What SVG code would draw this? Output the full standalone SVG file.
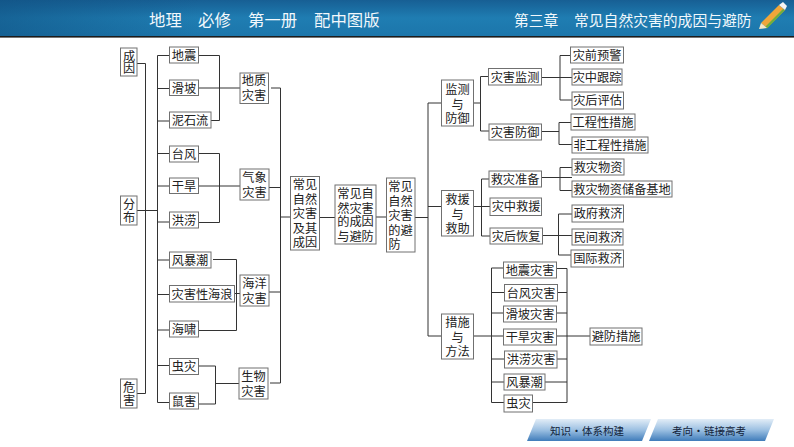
<svg xmlns="http://www.w3.org/2000/svg" width="794" height="447" viewBox="0 0 794 447">
<style>
text{font-family:"Noto Sans CJK SC","Liberation Sans",sans-serif}
.n rect{fill:#fff;stroke:#707070;stroke-width:1}
.n text{font-size:12.2px;fill:#222;text-anchor:middle}
.c path{fill:none;stroke:#333;stroke-width:1}
.h{font-size:16.4px;fill:#f2f8fc}
.r{font-size:14.8px;fill:#f2f8fc}
.b{font-size:10.5px;fill:#12233a;text-anchor:middle;word-spacing:-2px}
</style>
<defs>
<linearGradient id="hd" x1="0" y1="0" x2="0" y2="1"><stop offset="0" stop-color="#175f94"/><stop offset=".5" stop-color="#1f7db2"/><stop offset="1" stop-color="#1c76ab"/></linearGradient>
<linearGradient id="hl" x1="0" y1="0" x2="1" y2="0"><stop offset="0" stop-color="#0f4f80" stop-opacity=".55"/><stop offset=".25" stop-color="#0f4f80" stop-opacity="0"/></linearGradient>
<linearGradient id="bt" x1="0" y1="0" x2="0" y2="1"><stop offset="0" stop-color="#e2edf7"/><stop offset=".5" stop-color="#9cc0e2"/><stop offset="1" stop-color="#3f7cba"/></linearGradient>
</defs>
<rect width="794" height="447" fill="#fff"/>
<g id="header">
<rect width="794" height="36" fill="url(#hd)"/>
<rect width="794" height="36" fill="url(#hl)"/>
<rect y="36" width="794" height="1.6" fill="#1c1c1c"/>
<text class="h" x="149" y="26">地理</text>
<text class="h" x="198" y="26">必修</text>
<text class="h" x="248" y="26">第一册</text>
<text class="h" x="314" y="26">配中图版</text>
<text class="r" x="514" y="25.500">第三章</text>
<text class="r" x="574" y="25.500">常见自然灾害的成因与避防</text>
<polygon points="761,23 779,5 785,10 767,28" fill="#f0a63a"/>
<polygon points="765,27 783,9 785,10 767,28.500" fill="#6fae3e"/>
<polygon points="779,5 783,2 787,6 785,10" fill="#f4f4f4"/>
<polygon points="761,23 767,28 759,29" fill="#f7e7c4"/>
</g>
<g class="c" id="connectors">
<path d="M137 63.500H145.500V393.500H137"/>
<path d="M137 210.500H157.500"/>
<path d="M169 55.500H157.500V402.500H169M157.500 88.500H169M157.500 121H169M157.500 153.500H169M157.500 186H169M157.500 222H169M157.500 260H169M157.500 294.500H169M157.500 330H169M157.500 365.500H169"/>
<path d="M198.500 55.500H219.500V120.500H211M198.500 88H240"/>
<path d="M198.500 153.500H219.500V222.500H198.500M198.500 186H240"/>
<path d="M213 259.500H236.500V330.500H198.500M234.500 293.500H240"/>
<path d="M198.500 366H215.500V404H198.500M215.500 383.500H239"/>
<path d="M271 88H280.500V383H270M269 187.500H280.500M269 292H280.500M280.500 217H290.500"/>
<path d="M319.500 217.500H335M376 217H386.500M415 217.500H428"/>
<path d="M441.500 103H428V336H441.500M428 206.500H441.500"/>
<path d="M473.500 103H480.500M488.500 76.500H480.500V131H489"/>
<path d="M570.500 55.500H560V100H572M541.500 77.500H572"/>
<path d="M541.500 131.500H559M571 122.500H559V144.500H572"/>
<path d="M473.500 206.500H490M489 179H481.500V236H490"/>
<path d="M541.500 177.500H572M560 167.500H572M560 167.500V190.500H572"/>
<path d="M572 214H558.500V255H571M542.500 235.500H572"/>
<path d="M503.500 268H491.500V402.500H504M491.500 292.500H504M491.500 313H503.500M491.500 359H504M491.500 382H504M473.500 336H503.500"/>
<path d="M556.500 268.500H567V402.500H532.500M557.500 292.500H567M556.500 313H567M557 359H567M545 382H567M556.500 336H590"/>
</g>
<g class="n" id="n-chengyin"><rect x="120.500" y="48" width="16.500" height="28"/><text><tspan x="129" y="61">成</tspan><tspan x="129" y="73">因</tspan></text></g>
<g class="n" id="n-fenbu"><rect x="120.500" y="196" width="16.500" height="29"/><text><tspan x="129" y="209">分</tspan><tspan x="129" y="222">布</tspan></text></g>
<g class="n" id="n-weihai"><rect x="120.500" y="379" width="16.500" height="29"/><text><tspan x="129" y="392">危</tspan><tspan x="129" y="405">害</tspan></text></g>
<g class="n" id="n-dizhen"><rect x="169.500" y="47" width="29" height="16"/><text x="184" y="59.500">地震</text></g>
<g class="n" id="n-huapo"><rect x="169.500" y="80" width="29" height="15.500"/><text x="184" y="92.500">滑坡</text></g>
<g class="n" id="n-nishiliu"><rect x="169.500" y="112" width="41.500" height="16"/><text x="190" y="124.500">泥石流</text></g>
<g class="n" id="n-taifeng"><rect x="169.500" y="146" width="29" height="16"/><text x="184" y="158.500">台风</text></g>
<g class="n" id="n-ganhan"><rect x="169.500" y="178" width="29" height="15.500"/><text x="184" y="190.500">干旱</text></g>
<g class="n" id="n-honglao"><rect x="169.500" y="212" width="29" height="16"/><text x="184" y="225">洪涝</text></g>
<g class="n" id="n-fengbaochao"><rect x="169.500" y="252" width="41.500" height="16"/><text x="190" y="264.500">风暴潮</text></g>
<g class="n" id="n-hailang"><rect x="169.500" y="285.500" width="65" height="16.500"/><text x="202" y="298.500">灾害性海浪</text></g>
<g class="n" id="n-haixiao"><rect x="169.500" y="321" width="29" height="16"/><text x="184" y="333.500">海啸</text></g>
<g class="n" id="n-chongzai"><rect x="169.500" y="358.500" width="29" height="16"/><text x="184" y="371">虫灾</text></g>
<g class="n" id="n-shuhai"><rect x="169.500" y="393" width="29" height="16"/><text x="184" y="405.500">鼠害</text></g>
<g class="n" id="n-dizhi"><rect x="240" y="73" width="28.500" height="30.500"/><text><tspan x="254" y="85">地质</tspan><tspan x="254" y="100">灾害</tspan></text></g>
<g class="n" id="n-qixiang"><rect x="240" y="169" width="29" height="31"/><text><tspan x="254.500" y="182">气象</tspan><tspan x="254.500" y="197">灾害</tspan></text></g>
<g class="n" id="n-haiyang"><rect x="240" y="275" width="29" height="31"/><text><tspan x="254.500" y="288">海洋</tspan><tspan x="254.500" y="303">灾害</tspan></text></g>
<g class="n" id="n-shengwu"><rect x="239" y="368" width="29" height="31"/><text><tspan x="253.500" y="381">生物</tspan><tspan x="253.500" y="396">灾害</tspan></text></g>
<g class="n" id="n-jiqi"><rect x="290.500" y="176.500" width="29" height="73.500"/><text><tspan x="305" y="189">常见</tspan><tspan x="305" y="204">自然</tspan><tspan x="305" y="218">灾害</tspan><tspan x="305" y="232.500">及其</tspan><tspan x="305" y="247">成因</tspan></text></g>
<g class="n" id="n-center"><rect x="335" y="185" width="41" height="59"/><text><tspan x="355.500" y="198">常见自</tspan><tspan x="355.500" y="212.500">然灾害</tspan><tspan x="355.500" y="226">的成因</tspan><tspan x="355.500" y="241">与避防</tspan></text></g>
<g class="n" id="n-bifang"><rect x="386.500" y="178" width="28.500" height="74"/><text><tspan x="400.500" y="191">常见</tspan><tspan x="400.500" y="205.500">自然</tspan><tspan x="400.500" y="220">灾害</tspan><tspan x="400.500" y="234.500">的避</tspan><tspan x="394.500" y="249">防</tspan></text></g>
<g class="n" id="n-jiance"><rect x="441.500" y="80" width="32" height="46"/><text><tspan x="457.500" y="93.500">监测</tspan><tspan x="457.500" y="108.500">与</tspan><tspan x="457.500" y="123">防御</tspan></text></g>
<g class="n" id="n-jiuyuan"><rect x="441.500" y="190.500" width="32" height="45.500"/><text><tspan x="457.500" y="203.500">救援</tspan><tspan x="457.500" y="218.500">与</tspan><tspan x="457.500" y="233">救助</tspan></text></g>
<g class="n" id="n-cuoshi"><rect x="441.500" y="314" width="32" height="45"/><text><tspan x="457.500" y="327">措施</tspan><tspan x="457.500" y="341.500">与</tspan><tspan x="457.500" y="356">方法</tspan></text></g>
<g class="n" id="n-zaihaijiance"><rect x="488.500" y="68.500" width="53" height="16.500"/><text x="515" y="81.500">灾害监测</text></g>
<g class="n" id="n-zaihaifangyu"><rect x="489" y="124" width="52.500" height="16"/><text x="515" y="137">灾害防御</text></g>
<g class="n" id="n-zaiqian"><rect x="570.500" y="47" width="53" height="16"/><text x="597" y="59.500">灾前预警</text></g>
<g class="n" id="n-zaizhong"><rect x="572" y="69" width="50" height="16"/><text x="597" y="81.500">灾中跟踪</text></g>
<g class="n" id="n-zaihou"><rect x="572" y="92" width="51.500" height="17"/><text x="597.500" y="105">灾后评估</text></g>
<g class="n" id="n-gongcheng"><rect x="571" y="114" width="64" height="16"/><text x="603" y="126.500">工程性措施</text></g>
<g class="n" id="n-feigongcheng"><rect x="572" y="137" width="76" height="16"/><text x="610" y="149.500">非工程性措施</text></g>
<g class="n" id="n-jiuzaizhunbei"><rect x="489" y="171" width="52.500" height="16"/><text x="515" y="183.500">救灾准备</text></g>
<g class="n" id="n-zaizhongjiuyuan"><rect x="490" y="198" width="51.500" height="17.500"/><text x="516" y="211">灾中救援</text></g>
<g class="n" id="n-zaihouhuifu"><rect x="490" y="228" width="52.500" height="16"/><text x="516" y="240.500">灾后恢复</text></g>
<g class="n" id="n-wuzi"><rect x="572" y="159" width="52" height="16"/><text x="598" y="171.500">救灾物资</text></g>
<g class="n" id="n-jidi"><rect x="572" y="181" width="100" height="16"/><text x="622" y="193.500">救灾物资储备基地</text></g>
<g class="n" id="n-zhengfu"><rect x="572" y="205" width="51.500" height="17"/><text x="598" y="218">政府救济</text></g>
<g class="n" id="n-minjian"><rect x="572" y="229" width="51" height="16"/><text x="598" y="241.500">民间救济</text></g>
<g class="n" id="n-guoji"><rect x="571" y="250" width="52.500" height="17"/><text x="597.500" y="263">国际救济</text></g>
<g class="n" id="n-dzzh"><rect x="503.500" y="262" width="53" height="16"/><text x="530" y="274.500">地震灾害</text></g>
<g class="n" id="n-tfzh"><rect x="504.500" y="284.500" width="53" height="16.500"/><text x="531" y="297.500">台风灾害</text></g>
<g class="n" id="n-hpzh"><rect x="503.500" y="306" width="53" height="16"/><text x="530" y="318.500">滑坡灾害</text></g>
<g class="n" id="n-ghzh"><rect x="503.500" y="329" width="53" height="16"/><text x="530" y="341.500">干旱灾害</text></g>
<g class="n" id="n-hlzh"><rect x="504.500" y="351" width="52.500" height="17"/><text x="531" y="364">洪涝灾害</text></g>
<g class="n" id="n-fbc2"><rect x="504" y="374" width="41" height="16"/><text x="524.500" y="386.500">风暴潮</text></g>
<g class="n" id="n-cz2"><rect x="504" y="395" width="28.500" height="17"/><text x="518.500" y="408">虫灾</text></g>
<g class="n" id="n-bifangcuoshi"><rect x="590" y="328" width="52" height="17"/><text x="616" y="341">避防措施</text></g>
<g id="btn1"><polygon points="536,419 651,419 642,441 527,441" fill="url(#bt)"/><text class="b" x="587" y="434.500">知识 · 体系构建</text></g>
<g id="btn2"><polygon points="658,419 774,419 765,441 649,441" fill="url(#bt)"/><text class="b" x="709" y="434.500">考向 · 链接高考</text></g>
</svg>
